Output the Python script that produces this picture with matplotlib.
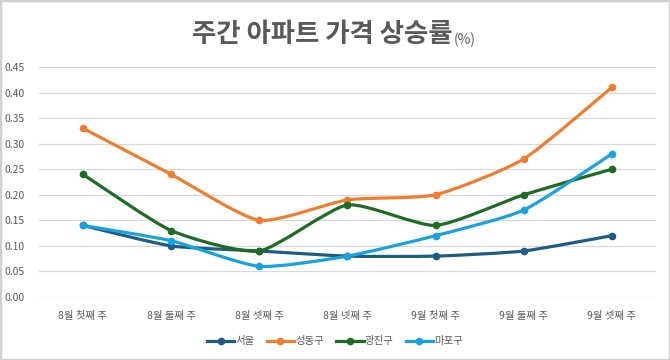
import numpy as np
import matplotlib.pyplot as plt
from matplotlib.path import Path
from matplotlib.patches import PathPatch, Rectangle
from matplotlib.lines import Line2D

plt.rcParams['font.family'] = ['Noto Sans CJK KR', 'DejaVu Sans']

weeks = ['8월 첫째 주', '8월 둘째 주', '8월 셋째 주', '8월 넷째 주',
         '9월 첫째 주', '9월 둘째 주', '9월 셋째 주']
names = ['서울', '성동구', '광진구', '마포구']
seoul = [0.14, 0.10, 0.09, 0.08, 0.08, 0.09, 0.12]
seongdong = [0.33, 0.24, 0.15, 0.19, 0.20, 0.27, 0.41]
gwangjin = [0.24, 0.13, 0.09, 0.18, 0.14, 0.20, 0.25]
mapo = [0.14, 0.11, 0.06, 0.08, 0.12, 0.17, 0.28]
yticks = [0.00, 0.05, 0.10, 0.15, 0.20, 0.25, 0.30, 0.35, 0.40, 0.45]

colors = ['#1f5c82', '#ed7d31', '#1e6b25', '#1ba1dd']
text_col = '#595959'


def smooth_path(xs, ys, k=0.1):
    # excel style smoothed line: bezier segments through every point
    p = np.column_stack([xs, ys]).astype(float)
    verts = [p[0]]
    codes = [Path.MOVETO]
    n = len(p)
    for i in range(n - 1):
        p0 = p[i - 1] if i > 0 else p[i]
        p1 = p[i]
        p2 = p[i + 1]
        p3 = p[i + 2] if i + 2 < n else p[i + 1]
        verts += [p1 + (p2 - p0) * k, p2 - (p3 - p1) * k, p2]
        codes += [Path.CURVE4] * 3
    return Path(verts, codes)


fig = plt.figure(figsize=(6.7, 3.6), dpi=100)
ax = fig.add_axes([0.058, 0.175, 0.921, 0.639])

x = np.arange(len(weeks))
series = [seoul, seongdong, gwangjin, mapo]
for vals, c in zip(series, colors):
    ax.add_patch(PathPatch(smooth_path(x, vals), fill=False, edgecolor=c,
                           lw=2.3, capstyle='round', joinstyle='round', zorder=3))
    ax.plot(x, vals, 'o', color=c, ms=4.5, zorder=4)

ax.set_xlim(-0.5, len(weeks) - 0.5)
ax.set_ylim(0, 0.45)
ax.set_yticks(yticks)
ax.set_yticklabels(['%.2f' % v for v in yticks])
ax.set_xticks(x)
ax.set_xticklabels(weeks)
ax.tick_params(axis='both', length=0, labelsize=7.5, labelcolor=text_col)
ax.tick_params(axis='x', pad=10)
ax.tick_params(axis='y', pad=10)
ax.grid(axis='y', color='#d9d9d9', lw=0.9)
ax.set_axisbelow(True)
for s in ax.spines.values():
    s.set_visible(False)

handles = [Line2D([], [], color=c, lw=2.3, marker='o', ms=4.5) for c in colors]
fig.legend(handles, names, loc='center', bbox_to_anchor=(0.5, 0.052), ncol=4,
           frameon=False, fontsize=7.5, labelcolor=text_col, handlelength=2.6,
           handletextpad=0.1, columnspacing=1.2)

fig.text(0.676, 0.905, '주간 아파트 가격 상승률', ha='right', va='center',
         fontsize=19, fontweight='bold', color=text_col)
fig.text(0.677, 0.888, '(%)', ha='left', va='center', fontsize=10, color=text_col)

fig.patches.append(Rectangle((0, 0), 1, 1, transform=fig.transFigure, fill=False,
                             edgecolor='#d0d0d0', lw=2.5))

fig.savefig('out.png', dpi=100)
